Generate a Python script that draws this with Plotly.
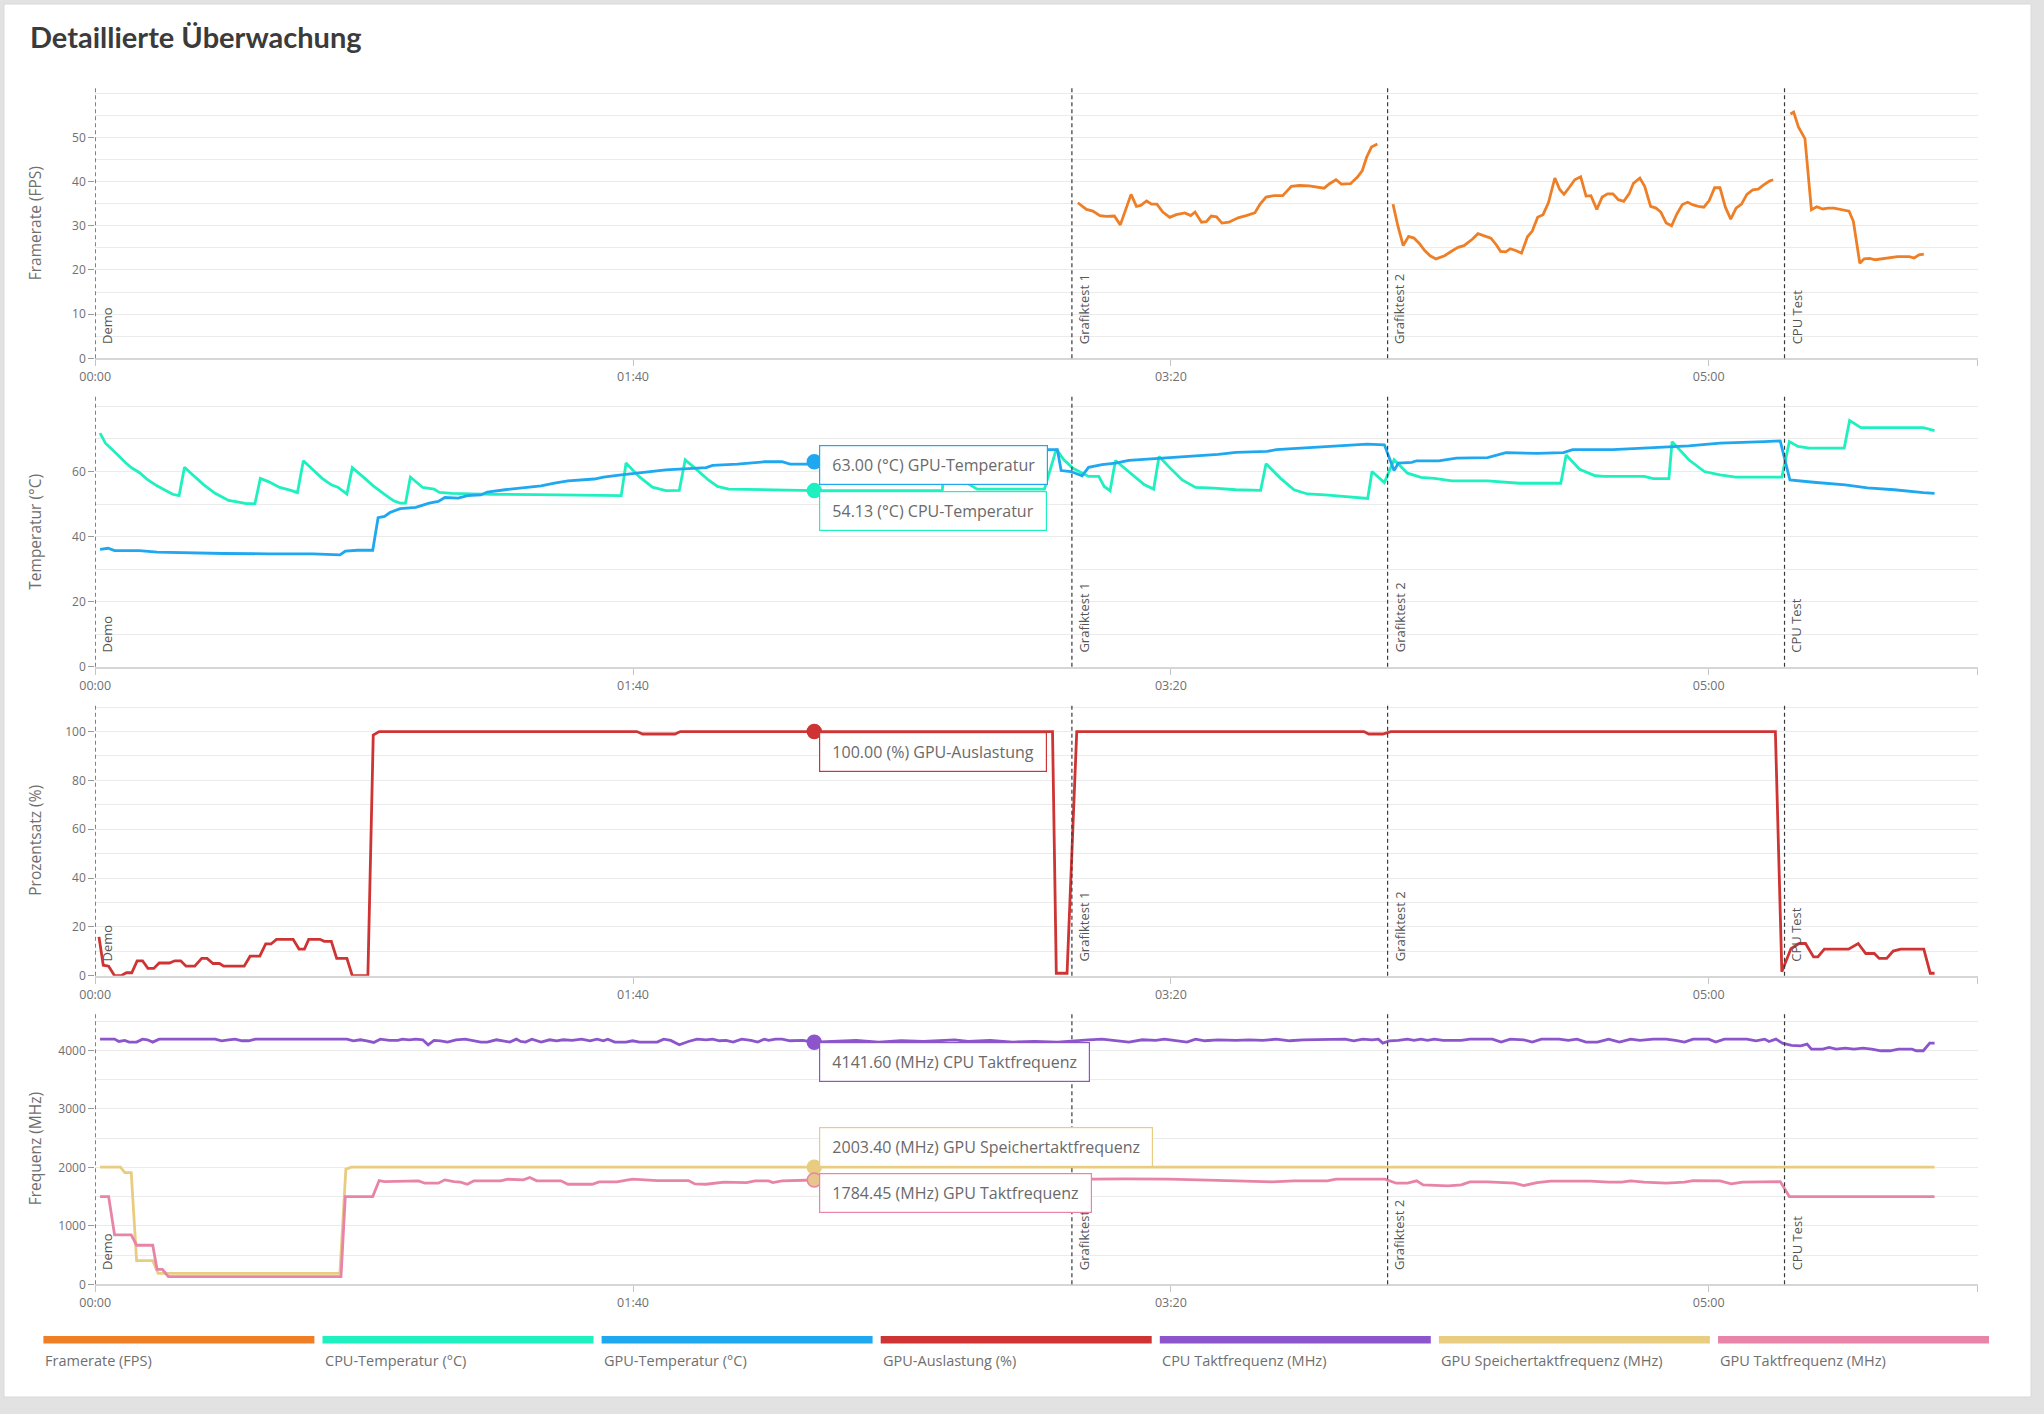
import plotly.graph_objects as go

W, H = 2044, 1414

# ---------------- data (time in seconds) ----------------
events_t = [0, 181.6, 240.3, 314.1]
events_label = ["Demo", "Grafiktest 1", "Grafiktest 2", "CPU Test"]

x_tickvals = [0, 100, 200, 300, 350]
x_ticktext = ["00:00", "01:40", "03:20", "05:00", ""]

fps_t = [182.7, 184.3, 185.5, 186.8, 188.0, 189.5, 190.6, 192.6, 193.6, 194.4, 195.5, 196.4, 197.4, 198.5,
         199.8, 201.0, 202.6, 203.7, 204.5, 205.7, 206.6, 207.5, 208.5, 209.5, 210.8, 212.5, 214.0, 215.6,
         216.6, 217.7, 219.2, 220.8, 222.4, 223.9, 225.7, 227.0, 228.5, 229.5, 230.7, 231.7, 233.4, 234.7,
         235.6, 236.4, 237.3, 238.4, None,
         241.3, 242.2, 243.2, 244.2, 245.2, 246.2, 247.2, 248.2, 249.3, 250.9, 252.4, 253.4, 254.5, 256.1,
         257.1, 258.2, 259.5, 260.5, 261.3, 262.3, 263.1, 264.1, 265.2, 266.3, 267.2, 268.2, 269.2, 270.2,
         271.4, 272.3, 273.1, 274.1, 275.1, 276.2, 277.2, 278.1, 279.2, 280.2, 281.2, 282.2, 283.2, 284.2,
         285.2, 286.0, 287.2, 288.1, 289.2, 290.2, 291.1, 292.1, 293.1, 294.1, 295.1, 296.1, 297.1, 298.1,
         299.1, 300.1, 301.1, 302.1, 303.1, 304.1, 305.1, 306.1, 307.1, 308.2, 309.2, 310.3, 311.3, 312.0, None,
         315.2, 315.8, 316.7, 317.9, 319.1, 320.1, 321.2, 322.2, 323.3, 324.2, 325.2, 326.1, 326.9, 328.1,
         328.9, 329.9, 331.0, 332.0, 333.1, 334.2, 335.1, 336.3, 337.3, 338.2, 339.1, 340.0]
fps_v = [35.2, 33.7, 33.3, 32.3, 32.1, 32.2, 30.2, 37.1, 34.4, 34.6, 35.6, 34.9, 34.9, 33.1,
         31.9, 32.5, 32.9, 32.3, 33.1, 30.8, 30.9, 32.2, 32.0, 30.6, 30.8, 31.8, 32.3, 32.9,
         34.9, 36.5, 36.8, 36.8, 38.9, 39.1, 39.0, 38.7, 38.5, 39.5, 40.4, 39.4, 39.5, 41.0,
         42.5, 45.5, 47.8, 48.5, None,
         34.9, 30.0, 25.5, 27.6, 27.2, 26.0, 24.4, 23.2, 22.5, 23.2, 24.4, 25.1, 25.5, 27.0,
         28.2, 27.8, 27.2, 25.7, 24.2, 24.1, 24.8, 24.4, 23.8, 27.5, 28.8, 31.9, 32.5, 35.2,
         40.8, 38.2, 37.1, 38.7, 40.4, 41.1, 36.7, 36.8, 33.7, 36.5, 37.2, 37.2, 35.9, 35.5,
         37.2, 39.6, 40.8, 38.9, 34.4, 34.0, 33.1, 30.6, 30.0, 32.7, 34.8, 35.3, 34.7, 34.4,
         34.2, 35.7, 38.6, 38.6, 34.2, 31.5, 34.0, 34.9, 37.1, 38.1, 38.3, 39.3, 40.1, 40.4, None,
         55.3, 55.7, 52.3, 49.7, 33.6, 34.3, 33.8, 34.0, 34.0, 33.8, 33.6, 33.3, 31.0, 21.5,
         22.5, 22.6, 22.3, 22.5, 22.6, 22.9, 23.0, 23.0, 23.0, 22.7, 23.4, 23.6]

cpu_temp_t = [0.9, 1.9, 3.2, 4.4, 5.7, 6.9, 8.2, 9.8, 11.5, 13.1, 14.4, 15.6, 16.6, 18.1, 20.2, 22.3, 24.8,
              26.4, 28.1, 29.7, 30.7, 32.2, 34.3, 36.4, 37.6, 38.7, 40.5, 42.2, 43.9, 45.1, 46.8, 47.8,
              49.7, 51.7, 53.8, 55.5, 56.7, 57.7, 58.6, 60.9, 63.0, 64.0, 66.3, 69.6, 73.8, 82.1, 87.9,
              88.7, 97.8, 98.7, 101.1, 103.6, 106.1, 108.6, 109.7, 111.9, 114.0, 115.7, 117.8, 133.7,
              157.5, 157.9, 161.0, 164.0, 176.5, 178.7, 180.1, 181.8, 183.5, 184.7, 186.6, 187.6, 188.7,
              189.7, 191.4, 193.0, 195.1, 196.8, 197.8, 199.6, 202.1, 204.6, 208.0, 212.1, 216.7, 217.7,
              220.4, 222.9, 225.4, 228.7, 232.9, 236.6, 237.4, 239.7, 241.5, 244.0, 246.5, 249.0, 252.3,
              258.9, 264.8, 272.5, 273.5, 276.0, 278.9, 280.5, 288.0, 289.7, 292.6, 293.2, 296.3, 299.2,
              302.1, 305.0, 313.6, 315.0, 316.6, 318.7, 325.2, 326.2, 328.3, 339.9, 342.0]
cpu_temp_v = [71.8, 68.7, 66.7, 64.6, 62.6, 61.0, 59.7, 57.4, 55.6, 54.2, 53.0, 52.6, 61.3, 59.0, 55.9, 53.3, 51.1,
              50.7, 50.1, 50.1, 57.9, 56.9, 55.1, 54.2, 53.5, 63.3, 60.5, 57.9, 55.9, 55.2, 53.1, 61.2,
              58.5, 55.6, 53.0, 51.0, 50.3, 50.3, 58.3, 55.1, 54.6, 53.6, 53.3, 53.1, 53.0, 52.9, 52.8,
              52.6, 52.6, 62.6, 58.5, 55.2, 54.1, 54.2, 63.6, 60.5, 57.4, 55.4, 54.6, 54.13,
              54.1, 62.0, 57.5, 54.6, 54.6, 66.9, 63.6, 61.0, 59.5, 58.5, 58.5, 55.4, 54.1,
              63.4, 61.0, 58.7, 55.9, 54.6, 64.6, 61.5, 57.4, 55.1, 54.9, 54.4, 54.2, 62.4,
              57.9, 54.4, 53.1, 52.8, 52.1, 51.7, 60.0, 56.6, 63.6, 59.5, 58.2, 57.9, 57.1,
              57.1, 56.4, 56.4, 65.1, 60.7, 58.7, 58.5, 58.5, 57.8, 57.8, 69.2, 63.6, 60.0,
              59.0, 58.3, 58.3, 69.2, 67.7, 67.2, 67.2, 75.7, 73.5, 73.5, 72.6]

gpu_temp_t = [0.9, 2.4, 3.6, 5.7, 8.2, 11.5, 15.6, 19.8, 23.9, 32.2, 40.5, 45.5, 46.5, 48.8, 51.6, 52.6, 53.8,
              54.8, 56.7, 59.6, 62.1, 63.8, 65.0, 67.5, 69.2, 71.7, 72.9, 76.2, 79.6, 82.9, 85.4, 87.9,
              92.8, 94.5, 97.8, 102.8, 106.1, 113.6, 114.8, 119.4, 124.4, 127.7, 129.2, 132.4, 133.7,
              150.0, 165.0, 177.0, 178.9, 179.6, 181.4, 183.5, 184.7, 187.2, 189.7, 192.2, 195.5, 199.7,
              203.8, 208.8, 212.1, 217.9, 219.6, 224.5, 230.7, 236.5, 239.7, 241.5, 242.3, 244.8, 245.7,
              249.8, 253.1, 258.9, 262.3, 268.1, 273.0, 274.7, 282.2, 290.5, 296.3, 302.1, 307.1, 310.4,
              313.3, 315.1, 319.5, 325.4, 329.5, 334.5, 339.9, 342.0]
gpu_temp_v = [36.1, 36.4, 35.7, 35.8, 35.7, 35.2, 35.0, 34.9, 34.8, 34.7, 34.7, 34.4, 35.5, 35.8, 35.8, 45.8, 46.2,
              47.4, 48.6, 49.0, 50.3, 50.8, 52.0, 51.8, 52.6, 52.8, 53.7, 54.4, 55.1, 55.6, 56.4, 57.1,
              57.7, 58.3, 59.0, 59.9, 60.5, 61.2, 61.9, 62.3, 63.0, 63.0, 62.3, 62.3, 63.0,
              64.0, 65.2, 66.7, 66.7, 60.3, 60.0, 58.7, 61.3, 62.1, 62.6, 63.4, 63.8, 64.1,
              64.6, 65.3, 65.9, 66.2, 66.7, 67.2, 67.7, 68.4, 68.2, 60.3, 62.6, 62.8, 63.3,
              63.3, 64.1, 64.3, 65.8, 65.6, 65.8, 66.7, 66.7, 67.4, 67.9, 68.7, 68.9, 69.2,
              69.4, 57.4, 56.7, 55.9, 55.0, 54.4, 53.5, 53.3]

gpu_util_t = [0.7, 1.5, 2.5, 3.6, 4.8, 5.8, 6.8, 7.8, 8.8, 9.8, 10.9, 11.9, 13.8, 14.8, 15.9, 16.9, 18.5, 19.8,
              20.8, 21.9, 23.1, 23.9, 27.7, 28.8, 30.6, 31.7, 32.7, 33.7, 36.8, 37.9, 38.9, 39.7, 41.8, 42.6,
              43.9, 44.9, 46.8, 47.8, 50.7, 51.7, 52.8, 100.7, 101.8, 107.8, 108.8, 133.7, 178.0, 178.7,
              180.7, 182.5, 235.9, 236.8, 239.4, 240.9, 312.4, 313.6, 315.3, 316.8, 318.0, 319.5, 320.3,
              321.5, 326.0, 327.8, 329.2, 330.8, 331.7, 333.1, 334.3, 335.7, 340.0, 341.2, 342.0]
gpu_util_v = [15.9, 4.3, 3.9, 0, 0, 1.2, 1.2, 6.1, 6.1, 3.0, 3.0, 5.2, 5.2, 6.1, 6.1, 3.9, 3.9, 7.1,
              7.1, 5.0, 5.0, 3.9, 3.9, 8.0, 8.0, 13.0, 13.0, 14.9, 14.9, 10.9, 10.9, 14.9, 14.9, 14.1,
              14.1, 7.1, 7.1, 0, 0, 98.6, 100, 100, 99.0, 99.0, 100, 100, 100, 1.0,
              1.0, 100, 100, 99.0, 99.0, 100, 100, 1.6, 11.1, 13.2, 13.2, 7.7, 7.7,
              10.9, 10.9, 13.2, 9.1, 9.1, 7.1, 7.1, 10.1, 10.9, 10.9, 1.0, 1.0]

cpu_clk_t = [0.9, 3.6, 4.4, 5.5, 6.3, 7.7, 8.8, 9.7, 10.7, 11.9, 22.3, 23.5, 24.8, 26.0, 27.3, 28.5, 29.8, 46.8,
             48.0, 49.3, 50.5, 51.8, 53.0, 54.7, 56.3, 57.1, 58.4, 59.6, 60.9, 61.9, 63.0, 64.2, 65.5, 67.1,
             68.8, 70.4, 71.7, 72.9, 74.6, 75.8, 77.1, 78.3, 79.1, 80.0, 81.2, 82.9, 84.5, 85.8, 87.0, 88.7,
             90.4, 92.0, 93.3, 94.5, 95.3, 96.6, 98.7, 99.9, 101.2, 104.5, 105.7, 107.0, 108.6, 110.3, 111.9,
             113.6, 114.8, 116.1, 117.3, 118.6, 120.2, 121.9, 123.2, 124.4, 125.2, 126.5, 127.7, 129.2, 131.6,
             133.7, 137.4, 141.5, 145.7, 149.8, 154.0, 159.8, 162.3, 166.4, 170.6, 174.7, 178.9, 182.2, 184.7,
             187.2, 190.5, 192.2, 194.7, 197.2, 198.8, 200.5, 203.0, 204.6, 206.3, 208.8, 212.1, 214.6, 217.1,
             219.6, 222.1, 224.6, 229.1, 232.4, 234.0, 235.7, 237.4, 238.6, 239.4, 240.7, 242.3, 244.0, 245.2,
             246.5, 247.7, 249.0, 250.6, 254.0, 255.6, 259.8, 261.4, 263.1, 265.6, 267.2, 268.9, 272.2, 273.9,
             275.5, 277.2, 279.3, 281.4, 283.4, 285.5, 287.2, 289.7, 292.1, 293.8, 295.5, 297.1, 300.0, 301.3,
             302.9, 307.1, 308.8, 310.4, 311.2, 312.5, 313.7, 315.4, 317.1, 318.3, 319.1, 321.2, 322.4, 323.7,
             325.4, 327.0, 328.7, 330.3, 332.0, 333.7, 335.3, 337.8, 338.6, 339.9, 341.1, 342.0]
cpu_clk_v = [4195, 4195, 4155, 4173, 4144, 4144, 4195, 4184, 4144, 4195, 4195, 4167, 4184, 4195, 4167, 4167, 4195, 4195,
             4167, 4184, 4167, 4138, 4195, 4173, 4173, 4195, 4184, 4195, 4184, 4098, 4173, 4167, 4144, 4184,
             4195, 4173, 4144, 4144, 4184, 4167, 4144, 4195, 4155, 4144, 4195, 4144, 4184, 4167, 4184, 4173,
             4195, 4167, 4195, 4167, 4195, 4144, 4144, 4167, 4144, 4144, 4195, 4173, 4098, 4155, 4195,
             4184, 4195, 4167, 4173, 4144, 4195, 4173, 4144, 4195, 4173, 4195, 4195, 4167, 4173,
             4141.6, 4155, 4173, 4144, 4167, 4155, 4184, 4155, 4173, 4144, 4155, 4144, 4173, 4184,
             4195, 4167, 4144, 4184, 4173, 4195, 4173, 4144, 4195, 4167, 4184, 4173, 4184, 4173,
             4195, 4167, 4184, 4195, 4195, 4167, 4195, 4184, 4195, 4127, 4167, 4173, 4195, 4173,
             4195, 4173, 4195, 4173, 4173, 4195, 4195, 4144, 4195, 4184, 4144, 4195, 4195, 4173,
             4195, 4144, 4144, 4195, 4144, 4195, 4173, 4195, 4195, 4173, 4144, 4195, 4195, 4144,
             4195, 4195, 4167, 4195, 4155, 4195, 4127, 4087, 4081, 4110, 4024, 4024, 4053, 4024,
             4041, 4024, 4041, 4024, 3996, 3996, 4024, 4024, 3996, 3996, 4127, 4127]

gpu_mem_t = [0.9, 4.7, 5.5, 6.7, 7.7, 10.7, 11.7, 45.5, 46.6, 47.6, 133.7, 200.0, 300.0, 342.0]
gpu_mem_v = [2003.4, 2003.4, 1912, 1912, 405, 405, 188, 188, 1969, 2003.4, 2003.4, 2003.4, 2003.4, 2003.4]

gpu_clk_t = [0.9, 2.5, 3.6, 6.7, 7.7, 10.7, 11.5, 12.5, 13.6, 45.7, 46.5, 51.6, 52.8, 53.8, 60.1, 61.3, 63.8,
             65.0, 66.7, 67.9, 69.2, 70.4, 75.4, 76.7, 79.6, 80.8, 82.1, 86.6, 87.9, 92.4, 93.7, 97.0, 99.9,
             104.5, 110.3, 111.5, 113.6, 116.9, 121.1, 122.7, 125.2, 126.0, 127.7, 131.6, 133.7, 185.4,
             191.3, 199.7, 208.0, 212.1, 218.8, 222.9, 229.1, 230.7, 239.8, 241.9, 244.0, 245.7, 246.9,
             251.5, 254.0, 255.6, 258.9, 263.9, 265.6, 268.1, 270.6, 278.0, 281.4, 283.8, 285.5, 288.0,
             292.1, 295.5, 297.1, 302.1, 304.2, 306.3, 313.3, 315.0, 342.0]
gpu_clk_v = [1501, 1501, 845, 845, 668, 668, 257, 257, 131, 131, 1501, 1501, 1775, 1758, 1770, 1730, 1730,
             1787, 1758, 1747, 1712, 1770, 1770, 1798, 1787, 1827, 1770, 1770, 1712, 1712, 1752, 1752, 1798,
             1775, 1775, 1718, 1712, 1747, 1741, 1770, 1770, 1741, 1770, 1787, 1784.45, 1798,
             1804, 1798, 1787, 1770, 1752, 1770, 1770, 1798, 1798, 1730, 1730, 1770, 1701,
             1684, 1701, 1752, 1752, 1730, 1690, 1741, 1764, 1764, 1747, 1747, 1770, 1747,
             1730, 1747, 1775, 1770, 1718, 1747, 1758, 1501, 1501]

hover_t = 133.7

series_names = ["Framerate (FPS)", "CPU-Temperatur (°C)", "GPU-Temperatur (°C)", "GPU-Auslastung (%)",
                "CPU Taktfrequenz (MHz)", "GPU Speichertaktfrequenz (MHz)", "GPU Taktfrequenz (MHz)"]
series_colors = ["#EE7F27", "#1EF0C0", "#1FA8F0", "#CF3434", "#8C55CC", "#E8CC80", "#E884A8"]

panel_titles = ["Framerate (FPS)", "Temperatur (°C)", "Prozentsatz (%)", "Frequenz (MHz)"]
panel_ranges = [[0, 61.1], [0, 83.0], [0, 110.6], [0, 4620]]
panel_tickvals = [[0, 10, 20, 30, 40, 50], [0, 20, 40, 60], [0, 20, 40, 60, 80, 100],
                  [0, 1000, 2000, 3000, 4000]]
panel_minor = [5, 10, 10, 500]

# ---------------- layout helpers ----------------
def fx(px):
    return px / W


def fy(py):
    return 1 - py / H


x_dom = [fx(95.2), fx(1977.6)]
panel_px = [(88.3, 358.3), (396.7, 666.7), (705.7, 975.7), (1014.3, 1284.3)]

FONT = "Open Sans, Noto Sans, sans-serif"
GRID = "#ebebeb"
TXT = "#6f6f6f"

fig = go.Figure()

series = [
    (0, fps_t, fps_v, 0),
    (1, cpu_temp_t, cpu_temp_v, 1),
    (1, gpu_temp_t, gpu_temp_v, 2),
    (2, gpu_util_t, gpu_util_v, 3),
    (3, cpu_clk_t, cpu_clk_v, 4),
    (3, gpu_mem_t, gpu_mem_v, 5),
    (3, gpu_clk_t, gpu_clk_v, 6),
]


def axname(i):
    return "" if i == 0 else str(i + 1)


for p, t, v, c in series:
    fig.add_trace(go.Scatter(x=t, y=v, mode="lines", name=series_names[c],
                             line=dict(color=series_colors[c], width=2.8),
                             connectgaps=False, showlegend=False,
                             xaxis="x" + axname(p), yaxis="y" + axname(p)))

# hover readouts: panel, value, color index, unit, label, yanchor, yshift, marker fill
hover_items = [
    (1, 63.00, 2, "°C", "GPU-Temperatur", "middle", -3, "#1FA8F0"),
    (1, 54.13, 1, "°C", "CPU-Temperatur", "top", 0, "#1EF0C0"),
    (2, 100.00, 3, "%", "GPU-Auslastung", "top", 0, "#CF3434"),
    (3, 4141.60, 4, "MHz", "CPU Taktfrequenz", "top", 0, "#8C55CC"),
    (3, 2003.40, 5, "MHz", "GPU Speichertaktfrequenz", "bottom", 0, "#E8CC80"),
    (3, 1784.45, 6, "MHz", "GPU Taktfrequenz", "top", 7, "#E8C58A"),
]

annotations = []
shapes = []

# card background
shapes.append(dict(type="rect", xref="paper", yref="paper", x0=fx(4), x1=fx(2031), y0=fy(1397), y1=fy(4),
                   fillcolor="white", line=dict(color="#d9d9d9", width=1), layer="below"))

layout_axes = {}
for i in range(4):
    top, bot = panel_px[i]
    ydom = [fy(bot), fy(top)]
    n = axname(i)
    layout_axes["xaxis" + n] = dict(
        domain=x_dom, range=[0, 350], anchor="y" + n, tickmode="array", automargin=False,
        tickvals=x_tickvals, ticktext=x_ticktext, ticks="outside", ticklen=6,
        tickcolor="#c4c4c4", tickwidth=1, showline=True, linecolor="#d6d6d6", linewidth=2,
        showgrid=False, zeroline=False, tickfont=dict(family=FONT, size=12.5, color=TXT),
        fixedrange=True)
    layout_axes["yaxis" + n] = dict(
        domain=ydom, range=panel_ranges[i], anchor="x" + n, tickmode="array", automargin=False,
        tickvals=panel_tickvals[i], ticks="outside", ticklen=6, tickcolor="#9a9a9a",
        showline=False, showgrid=True, gridcolor=GRID, gridwidth=1, zeroline=False,
        tickfont=dict(family=FONT, size=12, color=TXT),
        minor=dict(tickmode="linear", tick0=0, dtick=panel_minor[i], showgrid=True,
                   gridcolor=GRID, gridwidth=1, ticks=""),
        fixedrange=True)
    annotations.append(dict(xref="paper", yref="paper", x=fx(35), y=(ydom[0] + ydom[1]) / 2,
                            text=panel_titles[i], textangle=-90, showarrow=False,
                            font=dict(family=FONT, size=15.5, color=TXT),
                            xanchor="center", yanchor="middle"))
    for et, el in zip(events_t, events_label):
        shapes.append(dict(type="line", xref="x" + n, yref="y" + n + " domain", x0=et, x1=et, y0=0, y1=1,
                           line=dict(color="#3a3a3a", width=1.2, dash="4px,3px")))
        annotations.append(dict(xref="x" + n, yref="y" + n, x=et, y=0, text=el, textangle=-90,
                                showarrow=False, xanchor="left", yanchor="bottom", xshift=1, yshift=12,
                                font=dict(family=FONT, size=13, color="#555")))

# hover markers + boxes
for p, val, c, unit, lab, ya, ys, mfill in hover_items:
    n = axname(p)
    fig.add_trace(go.Scatter(x=[hover_t], y=[val], mode="markers", showlegend=False,
                             marker=dict(size=14, color=mfill, line=dict(width=1.5, color=series_colors[c])),
                             xaxis="x" + n, yaxis="y" + n))
    annotations.append(dict(xref="x" + n, yref="y" + n, x=hover_t, y=val,
                            text="\u00a0%.2f (%s) %s\u00a0" % (val, unit, lab),
                            showarrow=False, xanchor="left", yanchor=ya, yshift=ys, xshift=5,
                            bgcolor="white", bordercolor=series_colors[c], borderwidth=1.2, borderpad=8,
                            font=dict(family=FONT, size=16, color="#6a6a6a")))

# title
annotations.append(dict(xref="paper", yref="paper", x=fx(28), y=fy(37), text="<b>Detaillierte Überwachung</b>",
                        showarrow=False, xanchor="left", yanchor="middle",
                        font=dict(family="Lato, sans-serif", size=29, color="#3b3b3b")))

# legend strip
for k, (nm, col) in enumerate(zip(series_names, series_colors)):
    x0 = 43.4 + k * 279.1
    shapes.append(dict(type="rect", xref="paper", yref="paper", x0=fx(x0), x1=fx(x0 + 271),
                       y0=fy(1343.5), y1=fy(1336), fillcolor=col, line=dict(width=0)))
    annotations.append(dict(xref="paper", yref="paper", x=fx(x0), y=fy(1360), text=nm, showarrow=False,
                            xanchor="left", yanchor="middle",
                            font=dict(family=FONT, size=14.5, color=TXT)))

fig.update_layout(
    width=W, height=H, margin=dict(l=0, r=0, t=0, b=0, autoexpand=False),
    paper_bgcolor="#e2e2e2", plot_bgcolor="rgba(0,0,0,0)",
    showlegend=False, shapes=shapes, annotations=annotations,
    hovermode=False, **layout_axes)

fig.write_html("out.html", config={"displayModeBar": False},
               post_script="document.body.style.margin='0';document.body.style.overflow='hidden';")
